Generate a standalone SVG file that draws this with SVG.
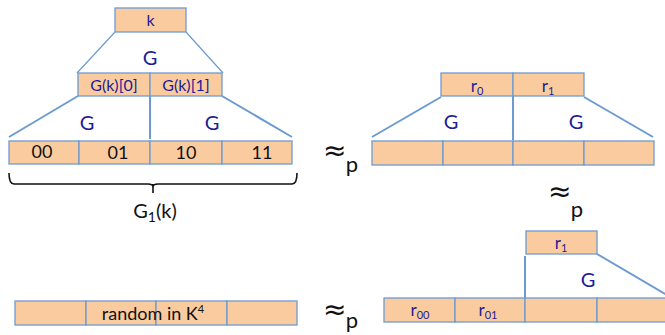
<svg xmlns="http://www.w3.org/2000/svg" width="665" height="335" viewBox="0 0 665 335">
<style>
.box{fill:#FBCBA0;stroke:#6C9BD0;stroke-width:1.3}
.ln{stroke:#6C9BD0;stroke-width:2;fill:none}
.thin{stroke:#6C9BD0;stroke-width:1.2;fill:none}
.nv{font-family:Lato,"Liberation Sans",sans-serif;fill:#1C1C96;text-anchor:middle}
.bk{font-family:Lato,"Liberation Sans",sans-serif;fill:#111;text-anchor:middle}
.ap{font-family:"DejaVu Sans",sans-serif;fill:#111}
</style>
<rect width="665" height="335" fill="#fff"/>
<g id="connectors">
<path class="thin" d="M115,32 L77,73 M186,32 L223,73"/>
<path class="ln" d="M78,96 L9,137 M150,96 L150,139 M222,96 L292,137"/>
<path class="ln" d="M441,97 L372,137 M513,96 L513,140 M584,97 L653,137"/>
<path class="ln" d="M525,256 L525,298 M597,254 L667,295"/>
<path fill="none" stroke="#111" stroke-width="1.6" d="M9,173 Q9,184 14,184 L148,184 Q153,184 153,187 Q153,184 158,184 L292,184 Q297,184 297,173 M153,184 L153,193"/>
</g>
<g id="k"><rect class="box" x="115" y="8" width="71" height="24"/><text class="nv" x="150.5" y="26" font-size="16">k</text></g>
<text class="nv" x="150" y="65" font-size="20">G</text>
<g id="gk0"><rect class="box" x="78" y="73" width="72" height="23"/><text class="nv" x="114" y="91" font-size="16">G(k)[0]</text></g>
<g id="gk1"><rect class="box" x="150" y="73" width="72" height="23"/><text class="nv" x="186" y="91" font-size="16">G(k)[1]</text></g>
<text class="nv" x="87" y="130" font-size="20">G</text>
<text class="nv" x="212" y="130" font-size="20">G</text>
<g id="row1">
<rect class="box" x="9" y="141" width="70" height="23"/>
<rect class="box" x="79" y="141" width="71" height="23"/>
<rect class="box" x="150" y="141" width="72" height="23"/>
<rect class="box" x="222" y="141" width="70" height="23"/>
<text class="bk" x="42" y="158" font-size="18">00</text>
<text class="bk" x="118" y="159" font-size="18">01</text>
<text class="bk" x="186" y="159" font-size="18">10</text>
<text class="bk" x="262" y="159" font-size="18">11</text>
</g>
<text class="bk" x="155" y="218" font-size="20">G<tspan font-size="14" dy="4">1</tspan><tspan dy="-4">(k)</tspan></text>
<g id="approx1"><text class="ap" x="323" y="160" font-size="28">≈</text><text class="bk" x="352" y="172" font-size="22">p</text></g>
<g id="r0"><rect class="box" x="441" y="73" width="72" height="23"/><text class="nv" x="477" y="92" font-size="17">r<tspan font-size="11" dy="3">0</tspan></text></g>
<g id="r1"><rect class="box" x="513" y="73" width="71" height="23"/><text class="nv" x="548" y="92" font-size="17">r<tspan font-size="11" dy="3">1</tspan></text></g>
<text class="nv" x="451" y="129" font-size="20">G</text>
<text class="nv" x="576" y="129" font-size="20">G</text>
<g id="row2">
<rect class="box" x="372" y="141" width="71" height="24"/>
<rect class="box" x="443" y="141" width="70" height="24"/>
<rect class="box" x="513" y="141" width="71" height="24"/>
<rect class="box" x="584" y="141" width="70" height="24"/>
</g>
<g id="approx2"><text class="ap" x="548" y="201" font-size="28">≈</text><text class="bk" x="577" y="217" font-size="22">p</text></g>
<g id="row3">
<rect class="box" x="15" y="301" width="71" height="24"/>
<rect class="box" x="86" y="301" width="70" height="24"/>
<rect class="box" x="156" y="301" width="71" height="24"/>
<rect class="box" x="227" y="301" width="70" height="24"/>
<text class="bk" x="153" y="320" font-size="18">random in K<tspan font-size="11" dy="-7">4</tspan></text>
</g>
<g id="approx3"><text class="ap" x="323" y="319" font-size="28">≈</text><text class="bk" x="352" y="328" font-size="22">p</text></g>
<g id="r1b"><rect class="box" x="526" y="231" width="71" height="23"/><text class="nv" x="561" y="249" font-size="17">r<tspan font-size="11" dy="3">1</tspan></text></g>
<text class="nv" x="588" y="287" font-size="20">G</text>
<g id="row4">
<rect class="box" x="384" y="298" width="71" height="24"/>
<rect class="box" x="455" y="298" width="70" height="24"/>
<rect class="box" x="525" y="298" width="72" height="24"/>
<rect class="box" x="597" y="298" width="71" height="24"/>
<text class="nv" x="420" y="316" font-size="17">r<tspan font-size="11" dy="3">00</tspan></text>
<text class="nv" x="488" y="316" font-size="17">r<tspan font-size="11" dy="3">01</tspan></text>
</g>
</svg>
